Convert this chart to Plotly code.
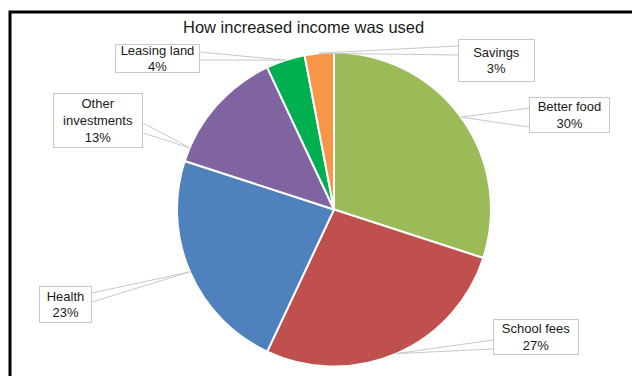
import math
import plotly.graph_objects as go

# ---- data ----
categories = ["Better food", "School fees", "Health", "Other investments", "Leasing land", "Savings"]
label_text = ["Better food", "School fees", "Health", "Other<br>investments", "Leasing land", "Savings"]
values = [30, 27, 23, 13, 4, 3]
colors = ["#9BBB59", "#C0504D", "#4F81BD", "#8064A2", "#00B050", "#F79646"]

# ---- layout (window pixels; page body has an 8px margin) ----
W, H = 640, 376
OFF = 8
CX, CY, R = 334, 209.5, 157
# label boxes: (left, top, right, bottom), side of box the leader attaches to, leader y's, anchor fraction in slice
boxes = [
    (529, 97, 610, 133, "left", (108, 127), 0.5),
    (493, 319, 579, 355, "left", (340, 349), 0.5),
    (39, 286, 92, 323, "right", (293, 302), 0.5),
    (53, 93, 143, 148, "right", (123, 133), 0.11),
    (115, 44, 200, 73, "right", (52, 60), 0.5),
    (458, 39, 535, 82, "left", (46, 55), 0.5),
]

def px(x):
    return (x - OFF) / W

def py(y):
    return 1 - (y - OFF) / H

fig = go.Figure()
fig.add_trace(go.Pie(
    labels=categories,
    values=values,
    sort=False,
    direction="clockwise",
    rotation=0,
    marker=dict(colors=colors, line=dict(color="white", width=2)),
    textinfo="none",
    hoverinfo="label+percent",
    showlegend=False,
    domain=dict(x=[px(CX - R), px(CX + R)], y=[py(CY + R), py(CY - R)]),
))

total = sum(values)
shapes = []
annotations = []
cum = 0
for name, txt, v, b in zip(categories, label_text, values, boxes):
    l, t, r, btm, side, ys, frac = b
    ang = 2 * math.pi * (cum + v * frac) / total
    cum += v
    ax = CX + R * math.sin(ang)
    ay = CY - R * math.cos(ang)
    ex = l if side == "left" else r
    path = "M {:.5f},{:.5f} L {:.5f},{:.5f} L {:.5f},{:.5f}".format(
        px(ex), py(ys[0]), px(ax), py(ay), px(ex), py(ys[1]))
    shapes.append(dict(type="path", path=path, xref="paper", yref="paper",
                       line=dict(color="#C8C8C8", width=1)))
    pct = round(100 * v / total)
    annotations.append(dict(
        x=px((l + r) / 2), y=py((t + btm) / 2), xref="paper", yref="paper",
        xanchor="center", yanchor="middle", showarrow=False,
        text=f"{txt}<br>{pct}%", align="center",
        font=dict(family="Liberation Sans, Arial", size=13, color="#1a1a1a"),
        bgcolor="white", bordercolor="#C8C8C8", borderwidth=1, borderpad=0,
        width=r - l - 2, height=btm - t - 2,
    ))

# outer black frame
shapes.append(dict(type="rect", xref="paper", yref="paper",
                   x0=px(10), x1=1.05, y0=-0.05, y1=py(12),
                   line=dict(color="black", width=3), fillcolor="rgba(0,0,0,0)"))

annotations.append(dict(
    x=px(303), y=py(27), xref="paper", yref="paper", xanchor="center", yanchor="middle",
    showarrow=False, text="How increased income was used",
    font=dict(family="Liberation Sans, Arial", size=16.5, color="#1a1a1a"),
))

fig.update_layout(
    width=W, height=H,
    margin=dict(l=0, r=0, t=0, b=0),
    paper_bgcolor="white", plot_bgcolor="white",
    shapes=shapes, annotations=annotations,
)

fig.write_html("out.html")
